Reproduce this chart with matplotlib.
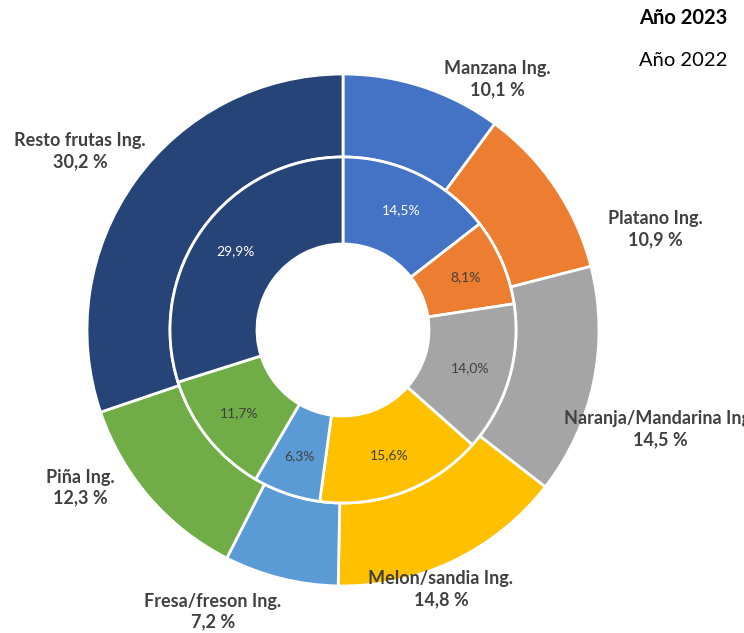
import numpy as np
import matplotlib
matplotlib.use("Agg")
from matplotlib import pyplot as plt

plt.rcParams['font.family'] = ['Lato', 'DejaVu Sans']

# data
frutas = ['Manzana Ing.', 'Platano Ing.', 'Naranja/Mandarina Ing.', 'Melon/sandia Ing.',
          'Fresa/freson Ing.', 'Piña Ing.', 'Resto frutas Ing.']
v2023 = [10.1, 10.9, 14.5, 14.8, 7.2, 12.3, 30.2]
v2022 = [14.5, 8.1, 14.0, 15.6, 6.3, 11.7, 29.9]

colores = ['#4472C4', '#ED7D31', '#A5A5A5', '#FFC000', '#5B9BD5', '#70AD47', '#264478']
txt_in = ['white', '#404040', '#404040', '#404040', '#404040', '#404040', 'white']

# label positions (image pixels, top-left origin)
pos_out = [(497, 79), (655, 229), (660, 429), (441, 589), (213, 612), (80, 488), (80, 151)]

W, H = 744, 633
cx, cy = 343, H - 330
r_out, r_mid, r_in = 256, 173, 86

fig = plt.figure(figsize=(W / 100, H / 100), dpi=100)
ax = fig.add_axes([0, 0, 1, 1])

kw = dict(startangle=90, counterclock=False, center=(cx, cy), frame=True)
ax.pie(v2023, colors=colores, radius=r_out,
       wedgeprops=dict(width=r_out - r_mid, edgecolor='white', linewidth=2), **kw)
ax.pie(v2022, colors=colores, radius=r_mid,
       wedgeprops=dict(width=r_mid - r_in, edgecolor='white', linewidth=2), **kw)
ax.set_xlim(0, W)
ax.set_ylim(0, H)
ax.set_aspect('equal')
ax.axis('off')

# inner ring labels
tot = sum(v2022)
acc = 0
for v, c in zip(v2022, txt_in):
    mid = (acc + v / 2) / tot * 2 * np.pi
    acc += v
    r = 133
    ax.text(cx + r * np.sin(mid), cy + r * np.cos(mid),
            ('%.1f%%' % v).replace('.', ','), color=c, fontsize=10,
            ha='center', va='center')

# outer ring labels
for nom, v, (px, py) in zip(frutas, v2023, pos_out):
    ax.text(px, H - py, nom + '\n' + ('%.1f %%' % v).replace('.', ','),
            color='#404040', fontsize=13, fontweight='bold',
            ha='center', va='center', linespacing=1.25, clip_on=False)

ax.text(727, H - 18, 'Año 2023', fontsize=14.5, fontweight='bold', ha='right', va='center', color='black')
ax.text(727, H - 60, 'Año 2022', fontsize=14.5, ha='right', va='center', color='black')

fig.savefig('out.png', dpi=100)
